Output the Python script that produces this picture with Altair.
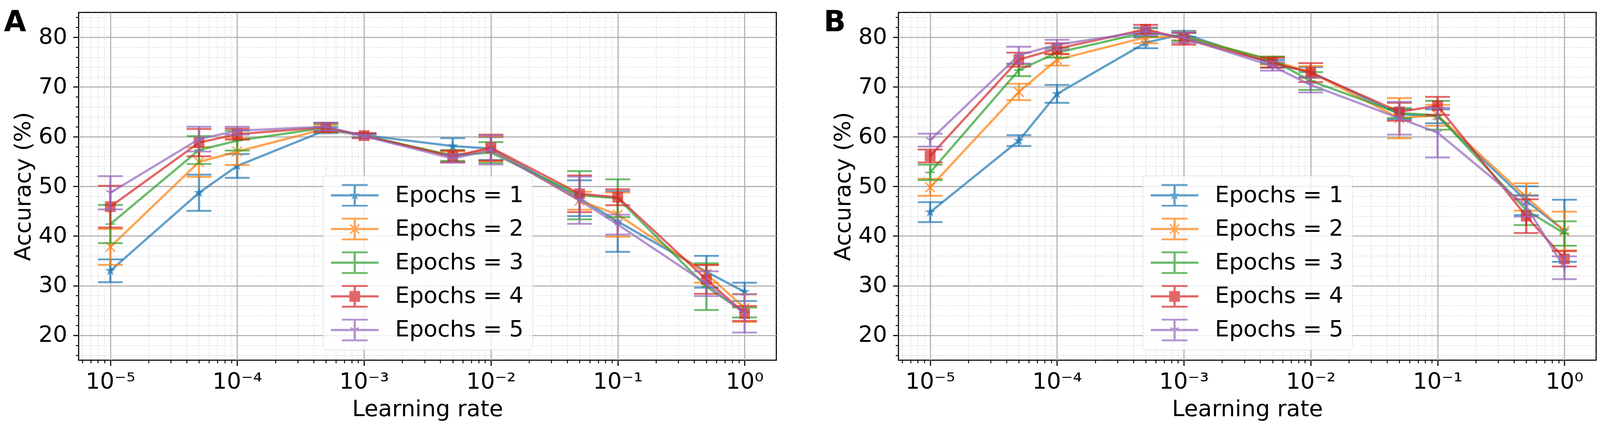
import json
import math
import altair as alt
import pandas as pd

# ---------------- data ----------------
learning_rates = [1e-5, 5e-5, 1e-4, 5e-4, 1e-3, 5e-3, 1e-2, 5e-2, 1e-1, 5e-1, 1.0]
epoch_labels = ["Epochs = 1", "Epochs = 2", "Epochs = 3", "Epochs = 4", "Epochs = 5"]
palette = ["#1f77b4", "#ff7f0e", "#2ca02c", "#d62728", "#9467bd"]
panel_letters = ["A", "B"]

# Panel A: mean accuracy (%) per epoch setting
acc_A_1 = [33.0, 48.7, 54.1, 61.3, 60.3, 58.1, 57.6, 47.6, 42.9, 32.8, 28.75]
acc_A_2 = [37.8, 54.9, 57.0, 61.6, 60.2, 56.0, 57.5, 47.1, 44.3, 32.4, 25.5]
acc_A_3 = [42.4, 57.3, 59.2, 61.8, 60.2, 56.2, 56.8, 48.2, 47.6, 29.8, 24.6]
acc_A_4 = [45.9, 58.8, 60.5, 61.9, 60.2, 56.0, 57.8, 48.5, 47.8, 31.25, 24.4]
acc_A_5 = [48.7, 59.5, 61.2, 62.0, 60.1, 55.6, 57.3, 47.2, 42.3, 30.4, 24.4]
# Panel A: error bar half-widths
err_A_1 = [2.3, 3.65, 2.4, 0.6, 0.4, 1.6, 2.3, 3.6, 6.1, 3.2, 1.85]
err_A_2 = [3.6, 3.0, 2.7, 0.7, 0.3, 1.0, 2.5, 1.8, 4.45, 1.8, 2.8]
err_A_3 = [3.85, 2.8, 2.0, 0.8, 0.3, 1.1, 2.1, 4.85, 3.8, 4.7, 1.0]
err_A_4 = [4.2, 2.75, 1.1, 0.9, 0.5, 1.2, 2.6, 3.7, 1.6, 2.9, 1.5]
err_A_5 = [3.35, 2.5, 0.8, 0.8, 0.3, 0.8, 2.9, 4.75, 2.0, 2.5, 3.85]

# Panel B: mean accuracy (%)
acc_B_1 = [44.8, 59.2, 68.6, 78.9, 80.7, 74.7, 73.0, 64.5, 64.1, 47.1, 41.05]
acc_B_2 = [49.8, 69.0, 75.5, 80.0, 80.2, 75.3, 73.0, 63.7, 64.3, 47.85, 41.0]
acc_B_3 = [52.8, 73.4, 76.9, 81.0, 80.1, 75.4, 71.2, 64.75, 64.3, 45.2, 40.5]
acc_B_4 = [56.1, 75.5, 77.7, 81.6, 79.7, 74.9, 72.9, 65.0, 66.2, 44.0, 35.4]
acc_B_5 = [59.3, 76.4, 78.5, 81.2, 79.9, 74.2, 70.4, 63.7, 60.8, 46.0, 33.6]
# Panel B: error bar half-widths
err_B_1 = [2.0, 1.1, 1.8, 1.1, 0.6, 0.8, 1.0, 1.0, 1.4, 2.9, 6.25]
err_B_2 = [1.7, 1.65, 1.2, 1.2, 0.8, 0.8, 1.2, 4.05, 2.1, 2.75, 3.9]
err_B_3 = [1.55, 1.2, 1.0, 0.8, 0.8, 0.7, 1.8, 1.0, 2.9, 3.0, 2.45]
err_B_4 = [1.3, 1.4, 1.1, 0.9, 1.2, 1.0, 1.9, 1.8, 1.8, 3.4, 1.55]
err_B_5 = [1.3, 1.7, 1.0, 0.8, 1.0, 0.9, 1.5, 3.3, 5.0, 2.1, 2.3]

# axis ticks and labels
major_x_ticks = [1e-5, 1e-4, 1e-3, 1e-2, 1e-1, 1.0]
x_tick_labels = ["10\u207b\u2075", "10\u207b\u2074", "10\u207b\u00b3", "10\u207b\u00b2", "10\u207b\u00b9", "10\u2070"]
major_y_ticks = [20, 30, 40, 50, 60, 70, 80]

X_LO, X_HI = 10 ** -5.25, 10 ** 0.25
Y_LO, Y_HI = 15, 85
minor_x_ticks = [m * 10.0 ** e for e in range(-6, 1) for m in range(2, 10)
                 if X_LO <= m * 10.0 ** e <= X_HI]
minor_y_ticks = [v for v in range(16, 85, 2) if v % 10 != 0]

# ---------------- table ----------------
panels = {
    "A": ([acc_A_1, acc_A_2, acc_A_3, acc_A_4, acc_A_5],
          [err_A_1, err_A_2, err_A_3, err_A_4, err_A_5]),
    "B": ([acc_B_1, acc_B_2, acc_B_3, acc_B_4, acc_B_5],
          [err_B_1, err_B_2, err_B_3, err_B_4, err_B_5]),
}


def make_table(letter):
    accs, errs = panels[letter]
    rows = []
    for lab, acc, err in zip(epoch_labels, accs, errs):
        for lr, a, e in zip(learning_rates, acc, err):
            rows.append({"lr": lr, "acc": a, "lo": a - e, "hi": a + e, "epoch": lab})
    return pd.DataFrame(rows)


# ---------------- marker / legend glyph shapes ----------------
def oriented(points):
    area = sum(points[i][0] * points[(i + 1) % len(points)][1]
               - points[(i + 1) % len(points)][0] * points[i][1] for i in range(len(points)))
    if area > 0:
        points = points[::-1]
    return "M" + "L".join(f"{x:.4f},{y:.4f}" for x, y in points) + "Z"


def seg(x1, y1, x2, y2, w):
    dx, dy = x2 - x1, y2 - y1
    L = math.hypot(dx, dy)
    nx, ny = -dy / L * w / 2, dx / L * w / 2
    return oriented([(x1 + nx, y1 + ny), (x2 + nx, y2 + ny), (x2 - nx, y2 - ny), (x1 - nx, y1 - ny)])


def star_pts(R, cx=0.0, cy=0.0):
    pts = []
    for i in range(10):
        ang = math.pi / 2 + i * math.pi / 5
        rr = R if i % 2 == 0 else R * 0.381966
        pts.append((cx + rr * math.cos(ang), cy - rr * math.sin(ang)))
    return pts


marker_paths = [
    oriented(star_pts(1.0)),
    "M-1,-1L1,1M-1,1L1,-1",
    "M-1,0L1,0M0,-1L0,1",
    "M-1,-1L1,-1L1,1L-1,1Z",
    "M0,0L0,1M0,0L-0.866,-0.5M0,0L0.866,-0.5",
]
marker_filled = [True, False, False, True, False]
marker_size = [900, 660, 660, 841, 660]

# legend glyphs (errorbar handle) in symbol units; 1 unit = 30.5 px
U = 30.5
CX = 1.066
HL = 64.3 / U
VB = 28.0 / U
CAP = 35.0 / U
LW = 6.0 / U
CW = 5.0 / U
MW = 4.0 / U
ML = 12.5 / U
MF = 14.5 / U


def glyph(k):
    parts = [seg(CX - HL, 0, CX + HL, 0, LW), seg(CX, -VB, CX, VB, LW),
             seg(CX - CAP, -VB, CX + CAP, -VB, CW), seg(CX - CAP, VB, CX + CAP, VB, CW)]
    if k == 0:
        parts.append(oriented(star_pts(MF, CX, 0)))
    elif k == 1:
        parts += [seg(CX - ML, -ML, CX + ML, ML, MW), seg(CX - ML, ML, CX + ML, -ML, MW)]
    elif k == 2:
        parts += [seg(CX - ML, 0, CX + ML, 0, MW), seg(CX, -ML, CX, ML, MW)]
    elif k == 3:
        parts.append(oriented([(CX - MF, -MF), (CX + MF, -MF), (CX + MF, MF), (CX - MF, MF)]))
    else:
        parts += [seg(CX, 0, CX, ML, MW), seg(CX, 0, CX - 0.866 * ML, -0.5 * ML, MW),
                  seg(CX, 0, CX + 0.866 * ML, -0.5 * ML, MW)]
    return "".join(parts)


glyph_paths = [glyph(k) for k in range(5)]

# ---------------- chart ----------------
W, H = 1885, 940
FONT = "DejaVu Sans"
FS = 61

label_expr = json.dumps(x_tick_labels, ensure_ascii=False) + "[round(log(datum.value)/LN10)+5]"

xs = alt.Scale(type="log", domain=[X_LO, X_HI], nice=False)
ys = alt.Scale(domain=[Y_LO, Y_HI], nice=False, zero=False)
cs = alt.Scale(domain=epoch_labels, range=palette)
ss = alt.Scale(domain=epoch_labels, range=glyph_paths)

major_x_axis = alt.Axis(orient="bottom", values=major_x_ticks, labelExpr=label_expr,
                        title="Learning rate", tickSize=15, tickWidth=3, tickColor="black",
                        labelFontSize=FS, labelFont=FONT, labelColor="black", labelPadding=14,
                        labelFlush=False, labelOverlap=False, titleFont=FONT, titleFontSize=FS,
                        titleFontWeight="normal", titleColor="black", titlePadding=14,
                        grid=True, gridColor="#b0b0b0", gridWidth=3, domain=False)
minor_x_axis = alt.Axis(orient="bottom", values=minor_x_ticks, labels=False, title=None,
                        tickSize=8, tickWidth=2.5, tickColor="black", grid=True,
                        gridColor="#c8c8c8", gridWidth=2, gridDash=[2, 4], domain=False)
major_y_axis = alt.Axis(orient="left", values=major_y_ticks, title="Accuracy (%)", tickSize=15,
                        tickWidth=3, tickColor="black", labelFontSize=FS, labelFont=FONT,
                        labelColor="black", labelPadding=16, labelFlush=False,
                        labelOverlap=False, titleFont=FONT, titleFontSize=FS,
                        titleFontWeight="normal", titleColor="black", titlePadding=9,
                        grid=True, gridColor="#b0b0b0", gridWidth=3, domain=False)
minor_y_axis = alt.Axis(orient="left", values=minor_y_ticks, labels=False, title=None,
                        tickSize=8, tickWidth=2.5, tickColor="black", grid=True,
                        gridColor="#c8c8c8", gridWidth=2, gridDash=[2, 4], domain=False)


def panel(letter):
    df = make_table(letter)
    base = alt.Chart(df)
    xq = alt.X("lr:Q", scale=xs, axis=None)

    layers = [
        base.mark_point(opacity=0).encode(
            x=alt.X("lr:Q", scale=xs, axis=minor_x_axis),
            y=alt.Y("acc:Q", scale=ys, axis=minor_y_axis)),
        base.mark_point(opacity=0).encode(
            x=alt.X("lr:Q", scale=xs, axis=major_x_axis),
            y=alt.Y("acc:Q", scale=ys, axis=major_y_axis)),
    ]
    for k, lab in enumerate(epoch_labels):
        c = palette[k]
        d = base.transform_filter(alt.datum.epoch == lab)
        layers.append(d.mark_rule(strokeWidth=6, opacity=0.7, color=c).encode(
            x=xq, y=alt.Y("lo:Q", scale=ys, axis=None), y2="hi:Q"))
        for fld in ("lo", "hi"):
            layers.append(d.mark_tick(orient="horizontal", size=67, thickness=5, opacity=0.7,
                                      color=c).encode(
                x=xq, y=alt.Y(f"{fld}:Q", scale=ys, axis=None)))
        layers.append(d.mark_line(strokeWidth=6, opacity=0.7, color=c).encode(
            x=xq, y=alt.Y("acc:Q", scale=ys, axis=None)))
        layers.append(d.mark_point(shape=marker_paths[k], filled=marker_filled[k],
                                   size=marker_size[k], strokeWidth=4, opacity=0.7,
                                   color=c).encode(
            x=xq, y=alt.Y("acc:Q", scale=ys, axis=None)))

    leg = alt.Legend(title=None, orient="none", legendX=660, legendY=441,
                     symbolSize=int(round((2 * U) ** 2)), symbolOpacity=0.7, symbolStrokeWidth=0,
                     labelFontSize=FS, labelFont=FONT, labelColor="black", labelOffset=111,
                     labelLimit=2000, rowPadding=29, padding=23,
                     fillColor="rgba(255,255,255,0.8)", strokeColor="#cccccc", cornerRadius=10)
    layers.append(base.mark_point(filled=True, opacity=0).encode(
        x=xq, y=alt.Y("acc:Q", scale=ys, axis=None),
        color=alt.Color("epoch:N", scale=cs, legend=leg),
        shape=alt.Shape("epoch:N", scale=ss, legend=leg)))

    # panel letter (annotation placed relative to the plot frame)
    layers.append(alt.Chart(pd.DataFrame({"letter": [letter]})).mark_text(
        font=FONT, fontSize=78, fontWeight="bold", color="black", align="left",
        baseline="alphabetic").encode(text="letter:N", x=alt.value(-202), y=alt.value(51)))

    return alt.layer(*layers).resolve_axis(x="independent", y="independent").properties(
        width=W, height=H)


chart = alt.hconcat(*[panel(p) for p in panel_letters], spacing=124).resolve_scale(
    color="independent", shape="independent").resolve_legend(
    color="independent", shape="independent").properties(
    padding={"top": -18, "left": 0, "right": 0, "bottom": -8}).configure(
    font=FONT).configure_view(stroke="black", strokeWidth=3)

chart.save("out.html", embed_options={"renderer": "svg", "actions": False})
